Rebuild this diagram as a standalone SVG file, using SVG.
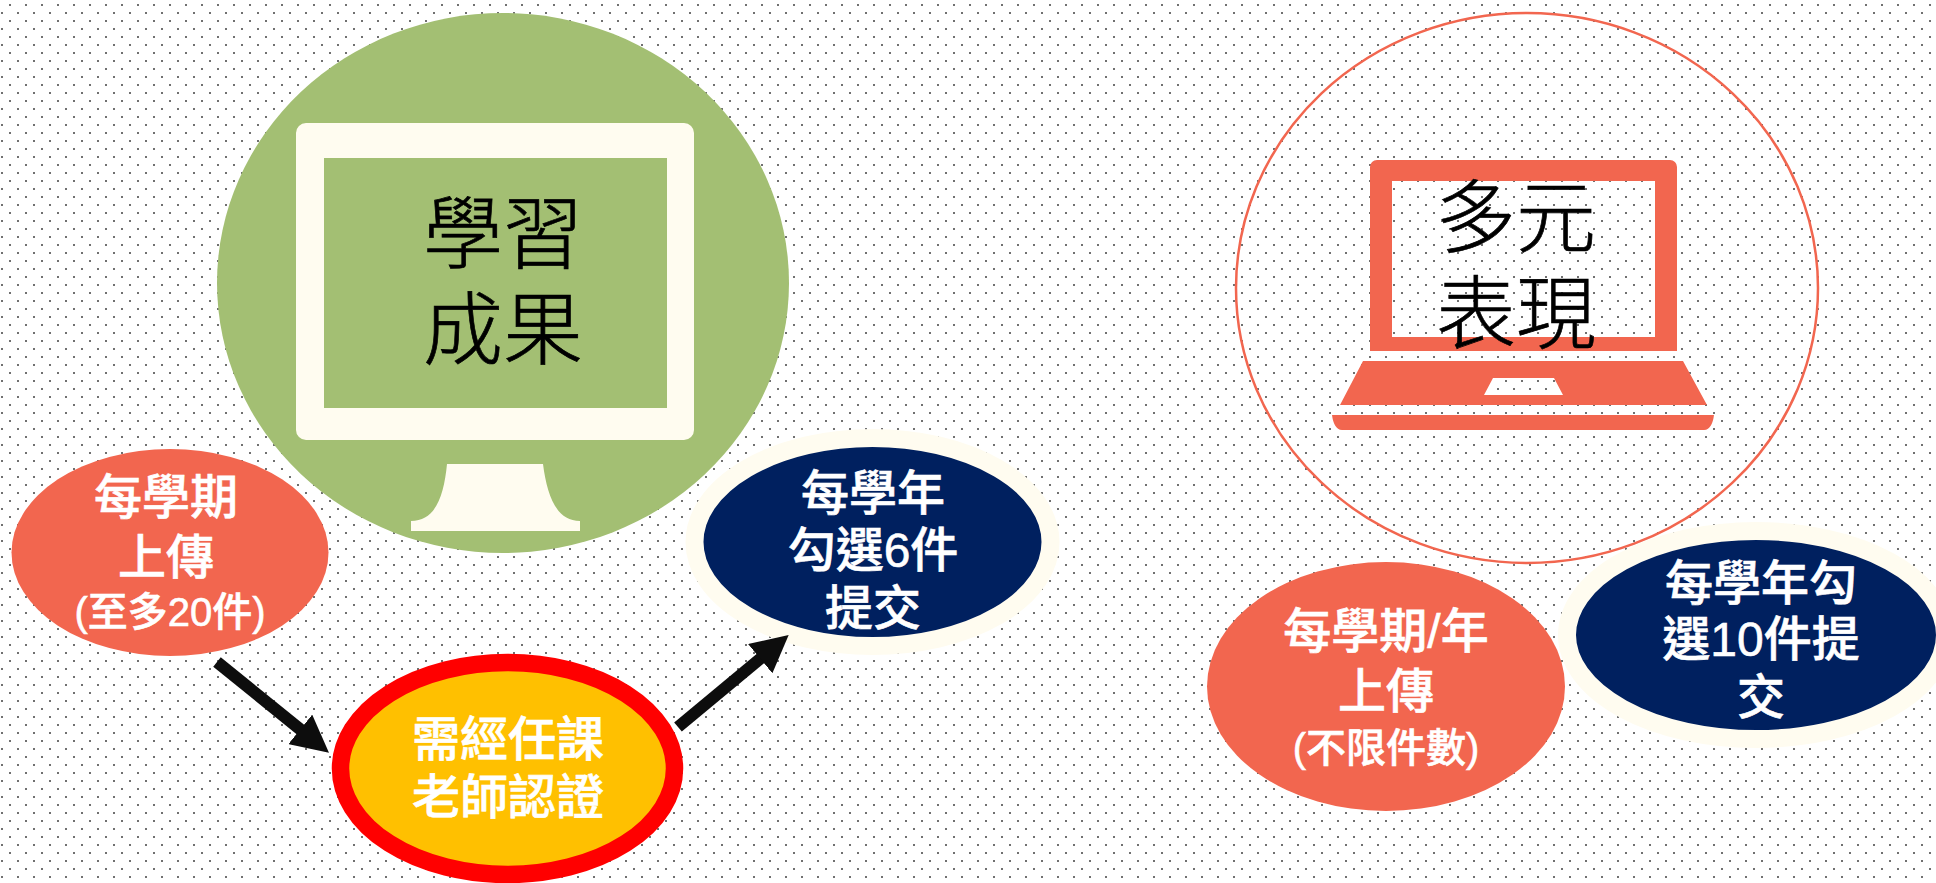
<svg xmlns="http://www.w3.org/2000/svg" width="1936" height="883" viewBox="0 0 1936 883">
<style>
.w{fill:#fff;stroke:#fff;stroke-width:.6;font-family:"Liberation Sans","Noto Sans CJK TC",sans-serif;text-anchor:middle;font-size:48px;font-weight:500}
.s{font-size:40px}
.k{fill:#000;stroke:#000;stroke-width:.7;font-family:"Liberation Sans","Noto Sans CJK TC",sans-serif;text-anchor:middle;font-size:80px;font-weight:300}
.a{fill:none;stroke:#0d0d0d;stroke-width:12;marker-end:url(#ah)}
</style>
<defs>
<pattern id="dots" width="16" height="16" patternUnits="userSpaceOnUse"><rect x="9" y="4" width="2" height="2" fill="#707070"/><rect x="1" y="12" width="2" height="2" fill="#707070"/></pattern>
<marker id="ah" markerUnits="userSpaceOnUse" markerWidth="38" markerHeight="38" refX="1" refY="19" orient="auto"><path d="M0 0L37 19L0 38z" fill="#0d0d0d"/></marker>
</defs>
<rect width="1936" height="883" fill="#fff"/>
<rect width="1936" height="883" fill="url(#dots)"/>
<g id="learning">
<ellipse cx="503" cy="283" rx="286" ry="270" fill="#a3bf73"/>
<path fill-rule="evenodd" fill="#fffcf0" d="M306 123H684a10 10 0 0 1 10 10V430a10 10 0 0 1-10 10H306a10 10 0 0 1-10-10V133a10 10 0 0 1 10-10zM324 158V408H667V158z"/>
<path fill="#fffcf0" d="M447 464H543C547 495 556 521 580 521V531H411V521C436 521 444 495 447 464z"/>
<text class="k"><tspan x="503" y="262">學習</tspan><tspan x="503" y="358">成果</tspan></text>
</g>
<g id="portfolio">
<ellipse cx="1527" cy="288" rx="291" ry="275" fill="none" stroke="#f2664f" stroke-width="2.5"/>
<path fill-rule="evenodd" fill="#f2664f" d="M1377 160H1670a7 7 0 0 1 7 7V351H1370V167a7 7 0 0 1 7-7zM1392 181V337H1655V181z"/>
<path fill-rule="evenodd" fill="#f2664f" d="M1363 361H1683L1707 405H1340zM1493 378L1484 395H1563L1554 378z"/>
<path fill="#f2664f" d="M1332 415H1714C1713 423 1710 430 1704 430H1342C1336 430 1333 423 1332 415z"/>
<text class="k"><tspan x="1516" y="246">多元</tspan><tspan x="1516" y="342">表現</tspan></text>
</g>
<g id="upload-a">
<ellipse cx="170" cy="552.500" rx="158.500" ry="103.500" fill="#f2664f"/>
<text class="w"><tspan x="166" y="514">每學期</tspan><tspan x="166" y="574">上傳</tspan><tspan class="s" x="170" y="626">(至多20件)</tspan></text>
</g>
<g id="certify">
<ellipse cx="507.500" cy="768.500" rx="167" ry="106" fill="#ffc000" stroke="#f00" stroke-width="17.500"/>
<text class="w"><tspan x="508" y="756">需經任課</tspan><tspan x="508" y="814">老師認證</tspan></text>
</g>
<g id="submit-a">
<ellipse cx="872.500" cy="542" rx="178" ry="104" fill="#00205f" stroke="#fffcf0" stroke-width="18"/>
<text class="w"><tspan x="873" y="510">每學年</tspan><tspan x="873" y="567">勾選6件</tspan><tspan x="873" y="625">提交</tspan></text>
</g>
<g id="upload-b">
<ellipse cx="1386" cy="686.500" rx="179" ry="124.500" fill="#f2664f"/>
<text class="w"><tspan x="1386" y="648">每學期/年</tspan><tspan x="1386" y="708">上傳</tspan><tspan class="s" x="1386" y="762">(不限件數)</tspan></text>
</g>
<g id="submit-b">
<ellipse cx="1756" cy="635" rx="189" ry="104" fill="#00205f" stroke="#fffcf0" stroke-width="18"/>
<text class="w"><tspan x="1761" y="600">每學年勾</tspan><tspan x="1761" y="656">選10件提</tspan><tspan x="1761" y="714">交</tspan></text>
</g>
<g id="connectors">
<path class="a" d="M217 662L301 730"/>
<path class="a" d="M678 727L761 658"/>
</g>
</svg>
